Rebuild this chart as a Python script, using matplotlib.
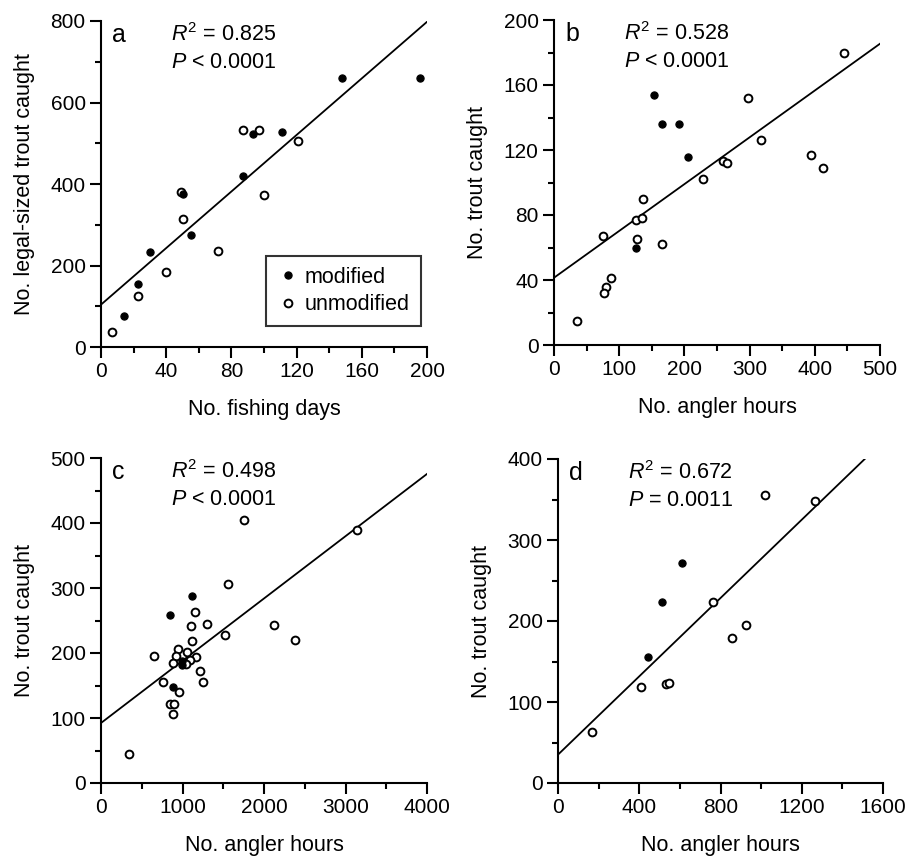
import numpy as np
import matplotlib
matplotlib.use('Agg')
import matplotlib.pyplot as plt
from matplotlib.ticker import MultipleLocator

plt.rcParams['font.family'] = ['Liberation Sans', 'DejaVu Sans']
plt.rcParams['mathtext.fontset'] = 'custom'
plt.rcParams['mathtext.rm'] = 'Liberation Sans'
plt.rcParams['mathtext.it'] = 'Liberation Sans:italic'

# panel a: fishing days vs legal-sized trout caught
a_mod_x = [148, 196, 93, 111, 87, 50, 55, 30, 23, 14]
a_mod_y = [660, 660, 522, 528, 420, 375, 276, 234, 155, 75]
a_unm_x = [87, 97, 121, 100, 49, 50, 72, 40, 23, 7]
a_unm_y = [532, 533, 505, 374, 380, 313, 236, 183, 124, 37]
a_fit = (104, 3.47)

# panel b
b_mod_x = [153, 165, 192, 205, 126]
b_mod_y = [154, 136, 136, 116, 60]
b_unm_x = [445, 298, 317, 394, 413, 259, 265, 228, 137, 125, 135, 75, 128, 166, 88, 79, 77, 36]
b_unm_y = [180, 152, 126, 117, 109, 113, 112, 102, 90, 77, 78, 67, 65, 62, 41, 36, 32, 15]
b_fit = (41.4, 0.288)

# panel c
c_mod_x = [1120, 850, 994, 994, 883]
c_mod_y = [288, 258, 187, 181, 147]
c_unm_x = [1750, 3140, 1560, 1148, 1104, 1301, 2120, 1525, 2380, 1120, 654, 940, 1059,
           924, 1166, 1087, 883, 1038, 1210, 761, 1247, 952, 850, 899, 883, 340]
c_unm_y = [405, 390, 306, 263, 242, 245, 243, 228, 220, 218, 196, 206, 201,
           195, 194, 190, 185, 183, 173, 156, 155, 140, 121, 121, 106, 44]
c_fit = (92.3, 0.0958)

# panel d
d_mod_x = [610, 510, 445]
d_mod_y = [272, 223, 155]
d_unm_x = [1020, 1265, 765, 925, 858, 408, 532, 545, 167]
d_unm_y = [355, 348, 223, 195, 179, 119, 122, 123, 63]
d_fit = (35, 0.2417)

panels = [
    dict(letter='a', r2='0.825', p='< 0.0001', mx=a_mod_x, my=a_mod_y, ux=a_unm_x, uy=a_unm_y,
         fit=a_fit, xlim=200, ylim=800, xmaj=40, ymaj=200,
         xlabel='No. fishing days', ylabel='No. legal-sized trout caught',
         pos=[101, 21, 326, 326], xpad=13),
    dict(letter='b', r2='0.528', p='< 0.0001', mx=b_mod_x, my=b_mod_y, ux=b_unm_x, uy=b_unm_y,
         fit=b_fit, xlim=500, ylim=200, xmaj=100, ymaj=40,
         xlabel='No. angler hours', ylabel='No. trout caught',
         pos=[554, 20, 326, 325], xpad=13),
    dict(letter='c', r2='0.498', p='< 0.0001', mx=c_mod_x, my=c_mod_y, ux=c_unm_x, uy=c_unm_y,
         fit=c_fit, xlim=4000, ylim=500, xmaj=1000, ymaj=100,
         xlabel='No. angler hours', ylabel='No. trout caught',
         pos=[101, 458, 326, 325], xpad=13),
    dict(letter='d', r2='0.672', p='= 0.0011', mx=d_mod_x, my=d_mod_y, ux=d_unm_x, uy=d_unm_y,
         fit=d_fit, xlim=1600, ylim=400, xmaj=400, ymaj=100,
         xlabel='No. angler hours', ylabel='No. trout caught',
         pos=[558, 459, 325, 324], xpad=13),
]

W, H = 908, 857
fig = plt.figure(figsize=(W / 100, H / 100), dpi=100)

for pn in panels:
    l, t, w, h = pn['pos']
    ax = fig.add_axes([l / W, 1 - (t + h) / H, w / W, h / H])
    ax.set_xlim(0, pn['xlim'])
    ax.set_ylim(0, pn['ylim'])

    xs = np.array([0, pn['xlim']])
    ax.plot(xs, pn['fit'][0] + pn['fit'][1] * xs, color='black', lw=1.3, zorder=2)

    ax.plot(pn['ux'], pn['uy'], 'o', ms=5.6, mfc='white', mec='black', mew=1.4,
            ls='none', label='unmodified', zorder=3)
    ax.plot(pn['mx'], pn['my'], 'o', ms=5.2, mfc='black', mec='black', mew=0.8,
            ls='none', label='modified', zorder=4)

    for s in ['top', 'right']:
        ax.spines[s].set_visible(False)
    for s in ['left', 'bottom']:
        ax.spines[s].set_linewidth(1.5)
    ax.xaxis.set_major_locator(MultipleLocator(pn['xmaj']))
    ax.xaxis.set_minor_locator(MultipleLocator(pn['xmaj'] / 2))
    ax.yaxis.set_major_locator(MultipleLocator(pn['ymaj']))
    ax.yaxis.set_minor_locator(MultipleLocator(pn['ymaj'] / 2))
    ax.tick_params(which='major', direction='out', length=8, width=1.5, labelsize=15, pad=3)
    ax.tick_params(which='minor', direction='out', length=4.5, width=1.5)

    ax.set_xlabel(pn['xlabel'], fontsize=15.5, labelpad=pn['xpad'])
    ax.set_ylabel(pn['ylabel'], fontsize=15.5, labelpad=11)

    ax.text(0.035, 0.995, pn['letter'], transform=ax.transAxes, fontsize=18,
            ha='left', va='top')
    ax.text(0.215, 0.995, r'$\mathit{R}^2$ = ' + pn['r2'], transform=ax.transAxes,
            fontsize=15.5, ha='left', va='top')
    ax.text(0.215, 0.905, r'$\mathit{P}$ ' + pn['p'], transform=ax.transAxes,
            fontsize=15.5, ha='left', va='top')

    if pn['letter'] == 'a':
        hs, ls_ = ax.get_legend_handles_labels()
        leg = ax.legend(hs[::-1], ls_[::-1], loc='lower right', bbox_to_anchor=(0.981, 0.064),
                        borderaxespad=0, fontsize=15.5, frameon=True, fancybox=False,
                        handletextpad=0.3, handlelength=1.0, borderpad=0.5, labelspacing=0.3)
        leg.get_frame().set_edgecolor('black')
        leg.get_frame().set_linewidth(1.5)

fig.savefig('out.png', dpi=100)
